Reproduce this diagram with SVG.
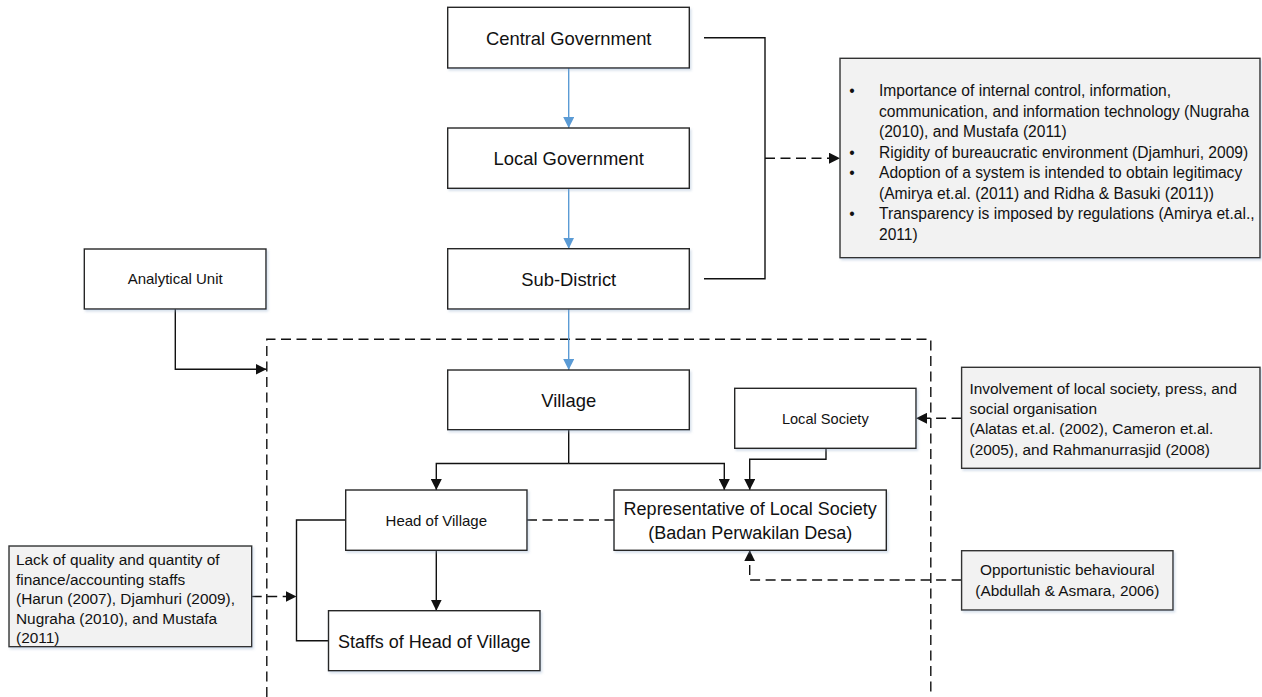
<svg xmlns="http://www.w3.org/2000/svg" width="1262" height="697" viewBox="0 0 1262 697">
<style>
text{font-family:"Liberation Sans",Arial,sans-serif;fill:#111}
.box{fill:#fff;stroke:#262626;stroke-width:1.4}
.note{fill:#f2f2f2;stroke:#333;stroke-width:1.4}
.big{font-size:18.4px;text-anchor:middle}
.mid{font-size:18px;text-anchor:middle}
.sm{font-size:15px;text-anchor:middle}
.nt{font-size:15.4px}
.bl{font-size:15.6px}
.ln{fill:none;stroke:#111;stroke-width:1.4}
.dash{fill:none;stroke:#111;stroke-width:1.4;stroke-dasharray:10 5.5}
.blue{fill:none;stroke:#5b9bd5;stroke-width:1.4}
</style>
<defs>
<filter id="sh" x="-5%" y="-5%" width="115%" height="125%">
<feDropShadow dx="1.5" dy="2" stdDeviation="1.2" flood-color="#8fa9c9" flood-opacity="0.35"/>
</filter>
<marker id="ab" viewBox="0 0 11 11" refX="11" refY="5.5" markerWidth="11" markerHeight="11" markerUnits="userSpaceOnUse" orient="auto">
<path d="M0,0 L11,5.5 L0,11 z" fill="#111"/>
</marker>
<marker id="abl" viewBox="0 0 11 11" refX="11" refY="5.5" markerWidth="11" markerHeight="11" markerUnits="userSpaceOnUse" orient="auto">
<path d="M0,0 L11,5.5 L0,11 z" fill="#5b9bd5"/>
</marker>
</defs>

<g id="boundary">
<path class="dash" d="M266.8,697 V339.2 H930.8 V697"/>
</g>

<g id="connectors">
<path class="blue" d="M568.7,68 V128" marker-end="url(#abl)"/>
<path class="blue" d="M568.7,188.3 V248.7" marker-end="url(#abl)"/>
<path class="blue" d="M568.7,309 V370" marker-end="url(#abl)"/>
<path class="ln" d="M704,37.7 H765 V278.8 H704"/>
<path class="dash" d="M765,158.2 H840" marker-end="url(#ab)"/>
<path class="ln" d="M175.3,309 V369.3 H266.5" marker-end="url(#ab)"/>
<path class="ln" d="M568.7,429.7 V463.5"/>
<path class="ln" d="M568.7,463.5 H436.3 V490" marker-end="url(#ab)"/>
<path class="ln" d="M568.7,463.5 H724.3 V490" marker-end="url(#ab)"/>
<path class="ln" d="M826,448.3 V459.3 H749.7 V490" marker-end="url(#ab)"/>
<path class="dash" d="M527,520 H614"/>
<path class="ln" d="M345.7,520 H296.5 V640.7 H328.5"/>
<path class="ln" d="M436.3,550.3 V610.7" marker-end="url(#ab)"/>
<path class="dash" d="M251.7,596.5 H296.5" marker-end="url(#ab)"/>
<path class="dash" d="M961.6,418.3 H916" marker-end="url(#ab)"/>
<path class="dash" d="M961.6,580 H749.7 V550.3" marker-end="url(#ab)"/>
</g>

<g id="central-government">
<rect class="box" filter="url(#sh)" x="447.7" y="7.3" width="241.6" height="60.7"/>
<text class="big" x="568.7" y="44.5">Central Government</text>
</g>
<g id="local-government">
<rect class="box" filter="url(#sh)" x="447.7" y="128" width="241.6" height="60.3"/>
<text class="big" x="568.7" y="165.3">Local Government</text>
</g>
<g id="sub-district">
<rect class="box" filter="url(#sh)" x="447.7" y="248.7" width="241.6" height="60.3"/>
<text class="big" x="568.7" y="285.8">Sub-District</text>
</g>
<g id="analytical-unit">
<rect class="box" filter="url(#sh)" x="84.3" y="249" width="181.7" height="60"/>
<text class="sm" x="175.2" y="284.3">Analytical Unit</text>
</g>
<g id="village">
<rect class="box" filter="url(#sh)" x="447.7" y="370" width="241.6" height="59.7"/>
<text class="big" x="568.7" y="406.5">Village</text>
</g>
<g id="local-society">
<rect class="box" filter="url(#sh)" x="734.7" y="388.3" width="181.3" height="60"/>
<text class="sm" x="825.3" y="423.5" style="font-size:14.6px">Local Society</text>
</g>
<g id="head-of-village">
<rect class="box" filter="url(#sh)" x="345.7" y="490" width="181.3" height="60.3"/>
<text class="sm" x="436.3" y="525.8">Head of Village</text>
</g>
<g id="representative">
<rect class="box" filter="url(#sh)" x="614" y="490" width="272.3" height="60.3"/>
<text class="mid" x="750.2" y="514.5">Representative of Local Society</text>
<text class="mid" x="750.2" y="539">(Badan Perwakilan Desa)</text>
</g>
<g id="staffs">
<rect class="box" filter="url(#sh)" x="328.5" y="610.7" width="211.5" height="60"/>
<text class="mid" x="434.2" y="647.8">Staffs of Head of Village</text>
</g>

<g id="factors-note">
<rect class="note" filter="url(#sh)" x="840" y="58.3" width="420" height="199.4"/>
<text class="bl" x="852" y="96" text-anchor="middle">•</text>
<text class="bl" x="879" y="96">Importance of internal control, information,</text>
<text class="bl" x="879" y="116.6">communication, and information technology (Nugraha</text>
<text class="bl" x="879" y="137.1">(2010), and Mustafa (2011)</text>
<text class="bl" x="852" y="157.7" text-anchor="middle">•</text>
<text class="bl" x="879" y="157.7">Rigidity of bureaucratic environment (Djamhuri, 2009)</text>
<text class="bl" x="852" y="178.3" text-anchor="middle">•</text>
<text class="bl" x="879" y="178.3">Adoption of a system is intended to obtain legitimacy</text>
<text class="bl" x="879" y="198.9">(Amirya et.al. (2011) and Ridha &amp; Basuki (2011))</text>
<text class="bl" x="852" y="219.4" text-anchor="middle">•</text>
<text class="bl" x="879" y="219.4">Transparency is imposed by regulations (Amirya et.al.,</text>
<text class="bl" x="879" y="240">2011)</text>
</g>

<g id="involvement-note">
<rect class="note" filter="url(#sh)" x="961.6" y="367.3" width="298.4" height="101"/>
<text class="nt" x="969.5" y="394">Involvement of local society, press, and</text>
<text class="nt" x="969.5" y="414.2">social organisation</text>
<text class="nt" x="969.5" y="434.4">(Alatas et.al. (2002), Cameron et.al.</text>
<text class="nt" x="969.5" y="454.6">(2005), and Rahmanurrasjid (2008)</text>
</g>

<g id="opportunistic-note">
<rect class="note" filter="url(#sh)" x="961.6" y="550.7" width="211.4" height="59.3"/>
<text class="nt" x="1067.3" y="575" text-anchor="middle">Opportunistic behavioural</text>
<text class="nt" x="1067.3" y="595.6" text-anchor="middle">(Abdullah &amp; Asmara, 2006)</text>
</g>

<g id="staff-quality-note">
<rect class="note" filter="url(#sh)" x="9" y="546" width="242.7" height="100.7"/>
<text class="nt" x="16" y="565">Lack of quality and quantity of</text>
<text class="nt" x="16" y="584.5">finance/accounting staffs</text>
<text class="nt" x="16" y="604">(Harun (2007), Djamhuri (2009),</text>
<text class="nt" x="16" y="623.5">Nugraha (2010), and Mustafa</text>
<text class="nt" x="16" y="643">(2011)</text>
</g>
</svg>
